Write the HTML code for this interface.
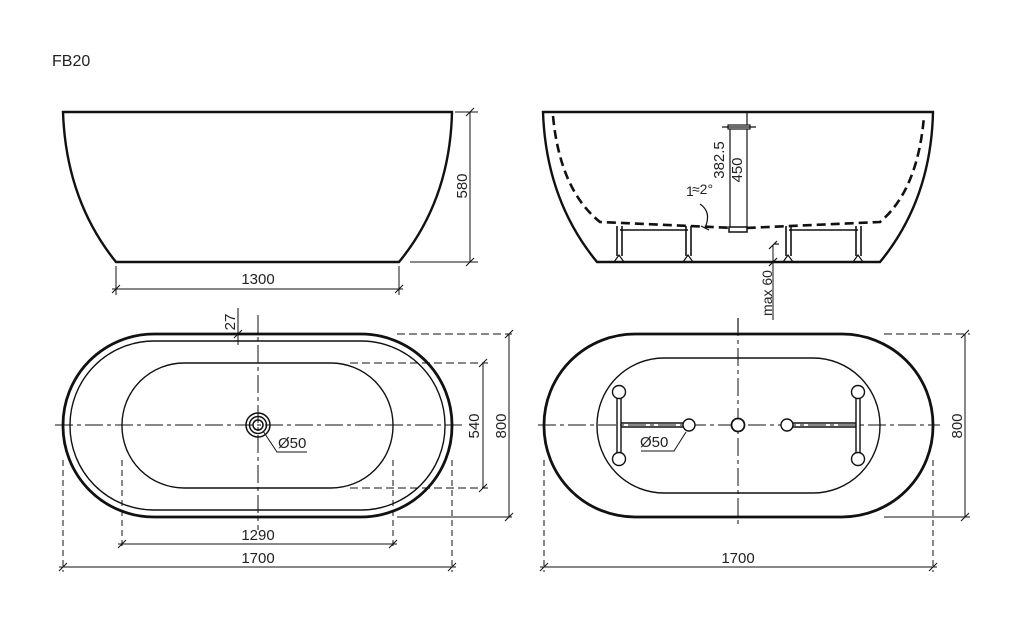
<!DOCTYPE html>
<html><head><meta charset="utf-8"><style>
html,body{margin:0;padding:0;background:#fff;}
svg{display:block;}
text{font-family:"Liberation Sans",sans-serif;font-size:15px;fill:#222;}
</style></head><body>
<svg width="1024" height="643" viewBox="0 0 1024 643" xmlns="http://www.w3.org/2000/svg">
<g fill="none" stroke="#111">
<text x="52" y="66" stroke="none" style="font-size:16px">FB20</text>

<!-- Top-left side view -->
<path d="M63 112 L452 112 Q450 200 399 262 L116 262 Q66 200 63 112 Z" stroke-width="2.4"/>
<g stroke-width="1">
<line x1="455" y1="112" x2="478" y2="112"/>
<line x1="410" y1="262" x2="478" y2="262"/>
<line x1="470" y1="112" x2="470" y2="262"/>
<line x1="116" y1="266" x2="116" y2="295"/>
<line x1="399" y1="266" x2="399" y2="295"/>
<line x1="112" y1="289" x2="403" y2="289"/>
<line x1="466" y1="116" x2="474" y2="108"/><line x1="466" y1="266" x2="474" y2="258"/>
<line x1="112" y1="293" x2="120" y2="285"/><line x1="395" y1="293" x2="403" y2="285"/>
</g>
<text x="258" y="284" stroke="none" text-anchor="middle">1300</text>
<text transform="translate(467,186) rotate(-90)" stroke="none" text-anchor="middle">580</text>

<!-- Top-right side view -->
<path d="M543 112 L933 112 Q931 200 880 262 L597 262 Q546 200 543 112 Z" stroke-width="2.4"/>
<path d="M553 116 Q560 190 600 222 L735 228 L745 228 L880 222 Q918 190 924 116" stroke-width="2.6" stroke-dasharray="9,5"/>
<g stroke-width="1.2">
<line x1="730" y1="127" x2="730" y2="228"/>
<line x1="747" y1="112" x2="747" y2="228"/>
<rect x="728" y="125" width="22" height="4" fill="#fff"/>
<line x1="722" y1="127" x2="756" y2="127"/>
<rect x="729" y="227" width="18" height="5" fill="#fff" stroke-width="1.5"/>
<!-- legs -->
<g stroke-width="1.6">
<line x1="617" y1="226" x2="617" y2="256"/><line x1="622" y1="226" x2="622" y2="256"/>
<line x1="686" y1="226" x2="686" y2="256"/><line x1="691" y1="226" x2="691" y2="256"/>
<line x1="786" y1="226" x2="786" y2="256"/><line x1="791" y1="226" x2="791" y2="256"/>
<line x1="856" y1="226" x2="856" y2="256"/><line x1="861" y1="226" x2="861" y2="256"/>
<line x1="620" y1="230" x2="688" y2="230"/><line x1="789" y1="230" x2="858" y2="230"/>
</g>
<path d="M614 262 l5 -7 l5 7 M683 262 l5 -7 l5 7 M783 262 l5 -7 l5 7 M853 262 l5 -7 l5 7"/>
<line x1="774" y1="244" x2="779" y2="244"/>
<line x1="773" y1="245" x2="773" y2="320" stroke-width="1"/>
<line x1="769" y1="249" x2="777" y2="241"/>
<line x1="769" y1="266" x2="777" y2="258"/>
<path d="M700 204 Q712 212 705 228"/>
<line x1="701" y1="226" x2="709" y2="230"/>
<line x1="738" y1="318" x2="738" y2="332"/>
</g>
<text transform="translate(742,170) rotate(-90)" stroke="none" text-anchor="middle">450</text>
<text transform="translate(724,160) rotate(-90)" stroke="none" text-anchor="middle">382.5</text>
<text transform="translate(772,293) rotate(-90)" stroke="none" text-anchor="middle" style="font-size:14px">max 60</text>
<text x="686" y="196" stroke="none" style="font-size:14px">1</text>
<text x="692" y="194" stroke="none" style="font-size:14px">≈2°</text>

<!-- Bottom-left plan -->
<rect x="63" y="334" width="389" height="183" rx="91" stroke-width="2.8"/>
<rect x="70" y="341" width="375" height="169" rx="84" stroke-width="1.4"/>
<rect x="122" y="363" width="271" height="125" rx="62" stroke-width="1.4"/>
<g stroke-width="1">
<line x1="55" y1="425" x2="462" y2="425" stroke-dasharray="18,4,4,4"/>
<line x1="258" y1="315" x2="258" y2="530" stroke-dasharray="18,4,4,4"/>
<circle cx="258" cy="425" r="12" stroke-width="1.5"/>
<circle cx="258" cy="425" r="8.5" stroke-width="1.5"/>
<circle cx="258" cy="425" r="5" stroke-width="1.5"/>
<path d="M263 431 L277 452 L307 452"/>
<line x1="238" y1="308" x2="238" y2="345"/>
<line x1="234" y1="338" x2="242" y2="330"/>
<line x1="397" y1="334" x2="512" y2="334" stroke-dasharray="8,4"/>
<line x1="397" y1="517" x2="512" y2="517"/>
<line x1="350" y1="363" x2="488" y2="363" stroke-dasharray="8,4"/>
<line x1="350" y1="488" x2="488" y2="488" stroke-dasharray="8,4"/>
<line x1="483" y1="363" x2="483" y2="488"/>
<line x1="509" y1="334" x2="509" y2="517"/>
<path d="M479 367 l8 -8 M479 492 l8 -8 M505 338 l8 -8 M505 521 l8 -8"/>
<line x1="122" y1="460" x2="122" y2="548" stroke-dasharray="6,4"/>
<line x1="393" y1="460" x2="393" y2="548" stroke-dasharray="6,4"/>
<line x1="63" y1="460" x2="63" y2="572" stroke-dasharray="6,4"/>
<line x1="452" y1="460" x2="452" y2="572" stroke-dasharray="6,4"/>
<line x1="118" y1="544" x2="397" y2="544"/>
<line x1="59" y1="567" x2="456" y2="567"/>
<path d="M118 548 l8 -8 M389 548 l8 -8 M59 571 l8 -8 M448 571 l8 -8"/>
</g>
<text x="258" y="540" stroke="none" text-anchor="middle">1290</text>
<text x="258" y="563" stroke="none" text-anchor="middle">1700</text>
<text x="278" y="448" stroke="none">Ø50</text>
<text transform="translate(235,322) rotate(-90)" stroke="none" text-anchor="middle">27</text>
<text transform="translate(479,426) rotate(-90)" stroke="none" text-anchor="middle">540</text>
<text transform="translate(506,426) rotate(-90)" stroke="none" text-anchor="middle">800</text>

<!-- Bottom-right plan -->
<rect x="544" y="334" width="389" height="183" rx="91" stroke-width="2.8"/>
<rect x="597" y="358" width="283" height="135" rx="67" stroke-width="1.4"/>
<g stroke-width="1">
<line x1="538" y1="425" x2="940" y2="425" stroke-dasharray="18,4,4,4"/>
<line x1="738" y1="318" x2="738" y2="526" stroke-dasharray="18,4,4,4"/>
<g stroke-width="1.4">
<line x1="617" y1="398" x2="617" y2="453"/><line x1="621" y1="398" x2="621" y2="453"/>
<line x1="856" y1="398" x2="856" y2="453"/><line x1="860" y1="398" x2="860" y2="453"/>
<line x1="621" y1="423" x2="684" y2="423"/><line x1="621" y1="427" x2="684" y2="427"/>
<line x1="793" y1="423" x2="856" y2="423"/><line x1="793" y1="427" x2="856" y2="427"/>
<circle cx="619" cy="392" r="6.5" fill="#fff"/><circle cx="619" cy="459" r="6.5" fill="#fff"/>
<circle cx="858" cy="392" r="6.5" fill="#fff"/><circle cx="858" cy="459" r="6.5" fill="#fff"/>
<circle cx="689" cy="425" r="6" fill="#fff"/><circle cx="787" cy="425" r="6" fill="#fff"/>
<circle cx="738" cy="425" r="6.5" fill="#fff" stroke-width="1.8"/>
</g>
<path d="M686 432 L674 451 L641 451"/>
<line x1="884" y1="334" x2="970" y2="334" stroke-dasharray="8,4"/>
<line x1="884" y1="517" x2="970" y2="517"/>
<line x1="965" y1="334" x2="965" y2="517"/>
<path d="M961 338 l8 -8 M961 521 l8 -8"/>
<line x1="544" y1="460" x2="544" y2="572" stroke-dasharray="6,4"/>
<line x1="933" y1="460" x2="933" y2="572" stroke-dasharray="6,4"/>
<line x1="540" y1="567" x2="937" y2="567"/>
<path d="M540 571 l8 -8 M929 571 l8 -8"/>
</g>
<text x="738" y="563" stroke="none" text-anchor="middle">1700</text>
<text x="640" y="447" stroke="none">Ø50</text>
<text transform="translate(962,426) rotate(-90)" stroke="none" text-anchor="middle">800</text>
</g>
</svg>
</body></html>
